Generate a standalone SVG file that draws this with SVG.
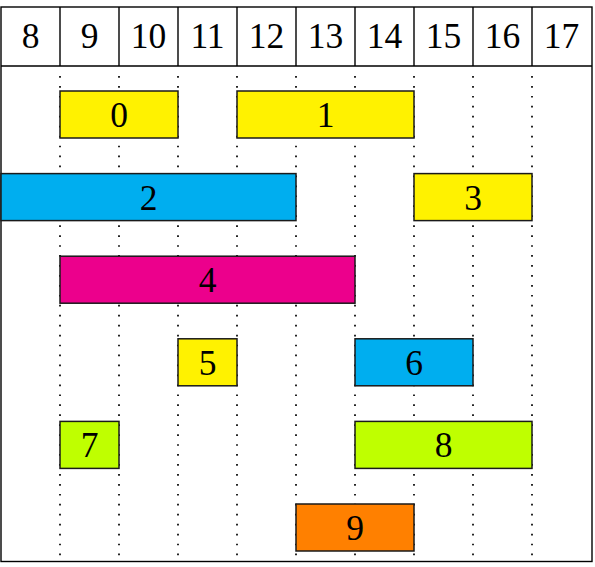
<svg xmlns="http://www.w3.org/2000/svg" width="595" height="567" viewBox="0 0 595 567">
<style>
text{font-family:"Liberation Serif","DejaVu Serif",serif;font-size:35.5px;text-anchor:middle;fill:#000}
.grid{stroke:#000;stroke-width:1.4;fill:none}
.dot{stroke:#000;stroke-width:1.7;stroke-dasharray:1.7 8.25;fill:none}
.box rect{stroke:#1a1a1a;stroke-width:1.5}
.y{fill:#FFF200}.c{fill:#00AEEF}.m{fill:#EC008C}.l{fill:#BFFF00}.o{fill:#FF8000}
</style>
<rect width="595" height="567" fill="#fff"/>
<g id="dots">
<path class="dot" d="M60 76V561M119 76V561M178 76V561M237 76V561M296 76V561M355 76V561M414 76V561M473 76V561M532 76V561"/>
</g>
<g id="header">
<rect class="grid" x="1" y="7" width="591" height="554.5"/>
<path class="grid" d="M1 66H592M60 7V66M119 7V66M178 7V66M237 7V66M296 7V66M355 7V66M414 7V66M473 7V66M532 7V66"/>
<text x="30.5" y="48">8</text>
<text x="89.5" y="48">9</text>
<text x="148.5" y="48">10</text>
<text x="207.5" y="48">11</text>
<text x="266.5" y="48">12</text>
<text x="325.5" y="48">13</text>
<text x="384.5" y="48">14</text>
<text x="443.5" y="48">15</text>
<text x="502.5" y="48">16</text>
<text x="561.5" y="48">17</text>
</g>
<g id="n0" class="box"><rect class="y" x="60" y="91" width="118" height="47"/><text x="119" y="127">0</text></g>
<g id="n1" class="box"><rect class="y" x="237" y="91" width="177" height="47"/><text x="325.5" y="127">1</text></g>
<g id="n2" class="box"><rect class="c" x="1" y="173.6" width="295" height="47"/><text x="148.5" y="209.6">2</text></g>
<g id="n3" class="box"><rect class="y" x="414" y="173.6" width="118" height="47"/><text x="473" y="209.6">3</text></g>
<g id="n4" class="box"><rect class="m" x="60" y="256.2" width="295" height="47"/><text x="207.5" y="292.2">4</text></g>
<g id="n5" class="box"><rect class="y" x="178" y="338.8" width="59" height="47"/><text x="207.5" y="374.8">5</text></g>
<g id="n6" class="box"><rect class="c" x="355" y="338.8" width="118" height="47"/><text x="414" y="374.8">6</text></g>
<g id="n7" class="box"><rect class="l" x="60" y="421.4" width="59" height="47"/><text x="89.5" y="457.4">7</text></g>
<g id="n8" class="box"><rect class="l" x="355" y="421.4" width="177" height="47"/><text x="443.5" y="457.4">8</text></g>
<g id="n9" class="box"><rect class="o" x="296" y="504" width="118" height="47"/><text x="355" y="540">9</text></g>
</svg>
